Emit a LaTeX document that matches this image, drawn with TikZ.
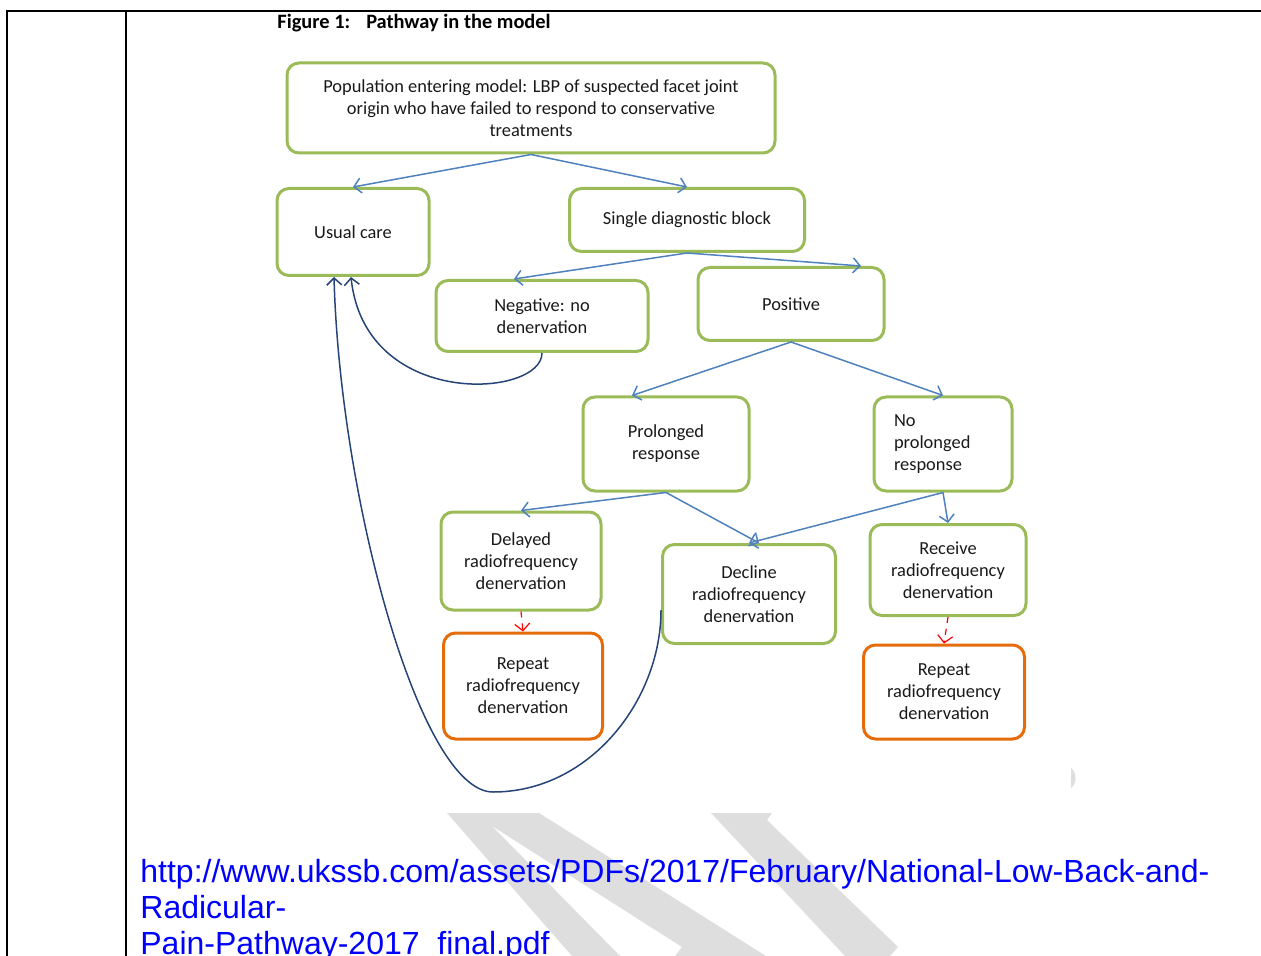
\documentclass[tikz,border=0pt]{standalone}
\usepackage{fontspec}
\setmainfont{Carlito}
\newfontfamily\linkfont{Liberation Sans}
\usepackage{tikz}
\usetikzlibrary{shapes,arrows,arrows.meta}
\usetikzlibrary{positioning}
\usetikzlibrary{calc}
\definecolor{boxgreen}{RGB}{155,187,89}
\definecolor{boxorange}{RGB}{228,108,10}
\definecolor{flowblue}{RGB}{79,129,189}
\definecolor{backblue}{RGB}{38,68,120}
\definecolor{markgray}{RGB}{222,222,222}
\definecolor{linkblue}{RGB}{0,0,255}
\newcommand\pathnode[5][]{%
  \node[pathbox,#1,minimum width=#2pt,minimum height=#3pt] (#4) {#5};
}

\begin{document}
\begin{tikzpicture}[
x=0.5pt, y=-0.5pt,
font=\fontsize{9.2}{11}\selectfont,
>={Straight Barb[length=3.5pt,width=7.5pt]},
pathbox/.style={
  rectangle,
  rounded corners=6pt,
  draw=boxgreen,
  line width=1.5pt,
  inner sep=2pt,
  text=black!90,
  align=center},
repeatbox/.style={pathbox, draw=boxorange},
flow/.style={->, draw=flowblue, line width=0.75pt},
backflow/.style={->, draw=backblue, line width=0.75pt},
repeatflow/.style={->, draw=red, dashed, line width=0.6pt}
]
\useasboundingbox (0,0) rectangle (1261,956);
\fill[markgray] (447,813) -- (539,813) -- (766,956) -- (675,956) -- (682,947) -- (492,826) -- (620,956) -- (572,956) -- cycle;
\fill[markgray] (711,813) -- (772,813) -- (767,820) -- (898,947) -- (890,956) -- (845,956) -- cycle;
\fill[markgray] (1071,768) .. controls (1077,772) and (1077,784) .. (1071,788) -- cycle;
\draw[line width=1.3pt] (7,956) -- (7,11) -- (1261,11);
\draw[line width=1.3pt] (126,11) -- (126,956);

\node[anchor=west, inner sep=0pt, font=\fontsize{10.2}{12}\selectfont\bfseries] (title) at (277,23) {Figure 1:\hspace{8pt}Pathway in the model};

\pathnode[at={(531,108)}]{244}{45}{pop}{Population entering model: LBP of suspected facet joint\\origin who have failed to respond to conservative\\treatments}
\pathnode[at={(353,232)}]{76}{43.5}{usual}{Usual care}
\pathnode[at={(687,220)}]{117.5}{31.5}{single}{Single diagnostic block}
\pathnode[at={(542,316)}]{106}{35.5}{neg}{Negative: no\\denervation}
\pathnode[at={(791,304)}]{93}{36.5}{pos}{Positive}
\pathnode[at={(666,444)}]{83}{47}{prolonged}{Prolonged\\response}
\pathnode[at={(943,444)},align=left,text width=49pt]{69}{47}{noprol}{No\\prolonged\\response}
\pathnode[at={(521,561)}]{80}{49}{delayed}{Delayed\\radiofrequency\\denervation}
\pathnode[at={(749,594)}]{86.5}{49.5}{decline}{Decline\\radiofrequency\\denervation}
\pathnode[at={(948,570)}]{78}{45.5}{receive}{Receive\\radiofrequency\\denervation}
\pathnode[repeatbox,at={(523,686)}]{79.5}{53}{repeata}{Repeat\\radiofrequency\\denervation}
\pathnode[repeatbox,at={(944,692)}]{80.5}{47}{repeatb}{Repeat\\radiofrequency\\denervation}

\draw[flow] (pop.south) -- (usual.north);
\draw[flow] (pop.south) -- (single.north);
\draw[flow] (single.south) -- ([xshift=-14pt]neg.north);
\draw[flow] (single.south) -- ([xshift=35pt]pos.north);
\draw[flow] (pos.south) -- ([xshift=-17pt]prolonged.north);
\draw[flow] (pos.south) -- (noprol.north);
\draw[flow] (prolonged.south) -- (delayed.north);
\draw[flow] (prolonged.south) -- ([xshift=5pt]decline.north);
\draw[flow] (noprol.south) -- (decline.north);
\draw[flow] (noprol.south) -- (receive.north);
\draw[repeatflow] (delayed.south) -- (repeata.north);
\draw[repeatflow] (receive.south) -- (repeatb.north);

\coordinate (lowturn) at (493,792);
\draw[backflow] (neg.south) .. controls +(0,45) and +(14,133) .. ([xshift=-1pt]usual.south);
\draw[backflow] ([yshift=-8pt]decline.west) .. controls +(0,90) and +(97,0) .. (lowturn)
  .. controls +(-73,0) and +(6,221) .. ([xshift=-9.5pt]usual.south);

\node[anchor=base west, align=left, inner sep=0pt, text=linkblue,
  font=\linkfont\fontsize{16}{18}\selectfont] (link) at (140,954)
  {http://www.ukssb.com/assets/PDFs/2017/February/National-Low-Back-and-\\Radicular-\\Pain-Pathway-2017\_final.pdf};
\end{tikzpicture}
\end{document}
